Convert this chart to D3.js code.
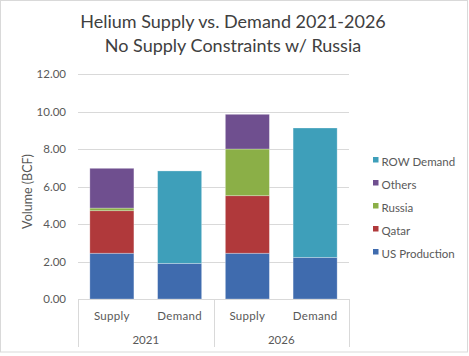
<!DOCTYPE html>
<html><head><meta charset="utf-8">
<script src="https://cdn.jsdelivr.net/npm/d3@7"></script>
<style>html,body{margin:0;padding:0;background:#fff;}svg{display:block;font-family:Lato,"Open Sans",sans-serif;}</style>
</head><body><svg id="c" width="469" height="356"></svg>
<script>
const years = ["2021", "2026"];
const groups = ["Supply", "Demand"];
const seriesNames = ["US Production", "Qatar", "Russia", "Others", "ROW Demand"];
const usProduction = [2.44, 1.90, 2.44, 2.22];
const qatar       = [2.27, 0, 3.07, 0];
const russia      = [0.14, 0, 2.49, 0];
const others      = [2.12, 0, 1.85, 0];
const rowDemand   = [0, 4.93, 0, 6.90];
const yTicks = [0, 2, 4, 6, 8, 10, 12];
const colors = ["#3F6BAE", "#B0393B", "#8BAF47", "#6F4F8F", "#3E9FBA"];

const seriesVals = [usProduction, qatar, russia, others, rowDemand];
const bars = [];
years.forEach((y, yi) => groups.forEach((g, gi) => bars.push({ id: y + "-" + g, year: y, group: g })));
const rows = bars.map((b, i) => { const r = { id: b.id }; seriesNames.forEach((s, si) => r[s] = seriesVals[si][i]); return r; });

const svg = d3.select("#c");
const L = 78, R = 349, T = 74, B = 299;
const x = d3.scaleBand().domain(bars.map(b => b.id)).range([L, R]).paddingInner(0.35).paddingOuter(0.175);
const y = d3.scaleLinear().domain([0, 12]).range([B, T]);
const textCol = "#595959";

// outer border
svg.append("rect").attr("x", 0.5).attr("y", 0.5).attr("width", 467).attr("height", 351.5)
  .attr("fill", "#fff").attr("stroke", "#d9d9d9");

// title
svg.append("text").attr("x", 233).attr("y", 28).attr("text-anchor", "middle")
  .attr("font-size", 18).attr("fill", "#404040").text("Helium Supply vs. Demand 2021-2026");
svg.append("text").attr("x", 233).attr("y", 52).attr("text-anchor", "middle")
  .attr("font-size", 18).attr("fill", "#404040").text("No Supply Constraints w/ Russia");

// gridlines
svg.append("g").selectAll("line").data(yTicks.filter(t => t > 0)).join("line")
  .attr("x1", L).attr("x2", R).attr("y1", d => Math.round(y(d)) + 0.5).attr("y2", d => Math.round(y(d)) + 0.5)
  .attr("stroke", "#d9d9d9").attr("stroke-width", 1);

// y axis labels
const yAxis = d3.axisLeft(y).tickValues(yTicks).tickFormat(d3.format(".2f")).tickSize(0).tickPadding(12);
const ya = svg.append("g").attr("transform", `translate(${L},0)`).call(yAxis);
ya.select(".domain").remove();
ya.selectAll("text").attr("font-size", 11.5).attr("fill", textCol).attr("font-family", "Lato,sans-serif");

svg.append("text").attr("transform", `translate(32,${(T + B) / 2 + 5}) rotate(-90)`).attr("text-anchor", "middle")
  .attr("font-size", 12.5).attr("fill", textCol).text("Volume (BCF)");

// stacked bars
const stack = d3.stack().keys(seriesNames);
const stacked = stack(rows);
svg.append("g").selectAll("g").data(stacked).join("g").attr("fill", (d, i) => colors[i])
  .selectAll("rect").data(d => d.filter(p => p[1] - p[0] > 0)).join("rect")
  .attr("x", d => x(d.data.id)).attr("width", x.bandwidth())
  .attr("y", d => y(d[1])).attr("height", d => y(d[0]) - y(d[1]))
  .attr("stroke", "rgba(255,255,255,0.35)").attr("stroke-width", 0.8);

// x axis line & separators
const axG = svg.append("g").attr("stroke", "#d9d9d9").attr("stroke-width", 1);
axG.append("line").attr("x1", L).attr("x2", R).attr("y1", B + 0.5).attr("y2", B + 0.5);
const yearBounds = [L, (L + R) / 2, R];
axG.selectAll(".sep").data(yearBounds).join("line").attr("class", "sep")
  .attr("x1", d => Math.round(d) + 0.5).attr("x2", d => Math.round(d) + 0.5).attr("y1", B).attr("y2", 347);

// category labels
svg.append("g").selectAll("text").data(bars).join("text")
  .attr("x", d => x(d.id) + x.bandwidth() / 2).attr("y", 320).attr("text-anchor", "middle")
  .attr("font-size", 11.5).attr("fill", textCol).attr("letter-spacing", 0.3).text(d => d.group);
svg.append("g").selectAll("text").data(years).join("text")
  .attr("x", (d, i) => (yearBounds[i] + yearBounds[i + 1]) / 2).attr("y", 344).attr("text-anchor", "middle")
  .attr("font-size", 11.5).attr("fill", textCol).text(d => d);

// legend (reverse order)
const legendOrder = seriesNames.map((s, i) => ({ s, c: colors[i] })).reverse();
const lg = svg.append("g").selectAll("g").data(legendOrder).join("g")
  .attr("transform", (d, i) => `translate(373,${161 + i * 23})`);
lg.append("rect").attr("x", 0).attr("y", -4).attr("width", 5.5).attr("height", 5.5).attr("fill", d => d.c);
lg.append("text").attr("x", 8.5).attr("y", 4.5).attr("font-size", 11.5).attr("fill", textCol).text(d => d.s);
</script></body></html>
